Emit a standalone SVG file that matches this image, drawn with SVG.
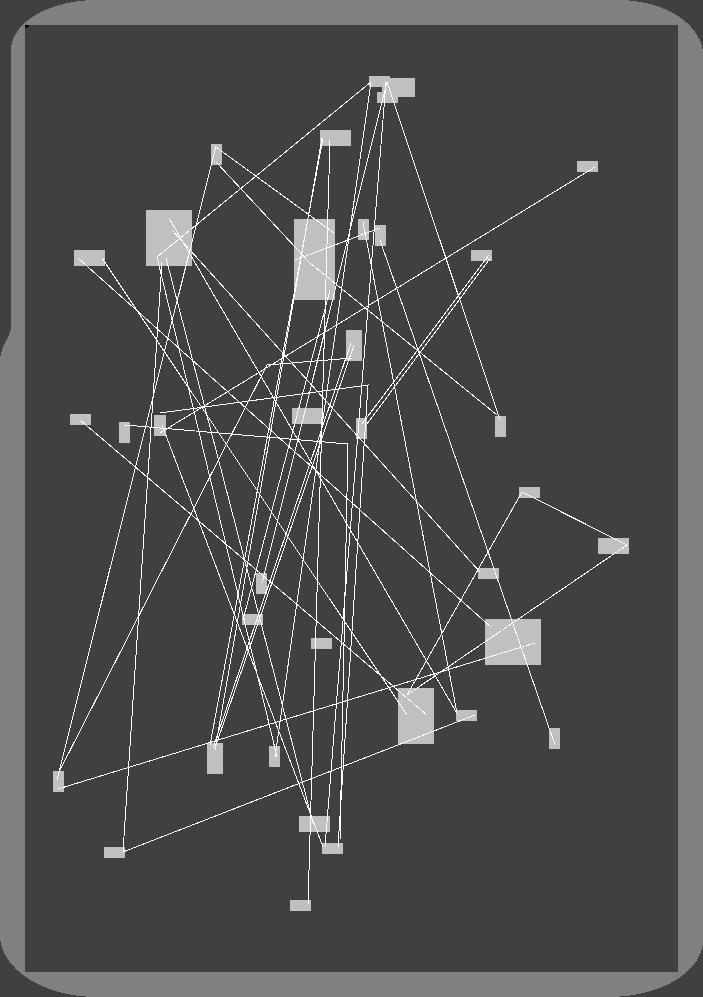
<svg xmlns="http://www.w3.org/2000/svg" width="703" height="997" viewBox="0 0 703 997" shape-rendering="crispEdges">
<style>
.n{fill:#c0c0c0}
#edges polyline{fill:none;stroke:#ffffff;stroke-width:1}
</style>
<rect x="0" y="0" width="703" height="997" fill="#404040"/>
<path d="M97,0 L618,0 A85,55 0 0 1 703,55 L703,940 A94,57 0 0 1 609,997 L97,997 A97,62 0 0 1 0,935 L0,362 C0,345 11,338 11,325 L11,50 A86,50 0 0 1 97,0 Z" fill="#808080"/>
<rect x="25" y="25" width="653" height="947" fill="#404040"/>
<path d="M25,25 H29 V27 H27 V28 H25 Z" fill="#000000"/>
<g id="nodes">
<rect id="n1" class="n" x="369" y="76" width="21" height="11"/>
<rect id="n2" class="n" x="382" y="78" width="33" height="19"/>
<rect id="n3" class="n" x="377" y="92" width="21" height="11"/>
<rect id="n4" class="n" x="320" y="130" width="31" height="16"/>
<rect id="n5" class="n" x="577" y="161" width="21" height="11"/>
<rect id="n6" class="n" x="294" y="219" width="41" height="81"/>
<rect id="n7" class="n" x="358" y="219" width="11" height="21"/>
<rect id="n8" class="n" x="375" y="225" width="11" height="21"/>
<rect id="n9" class="n" x="471" y="250" width="21" height="11"/>
<rect id="n10" class="n" x="211" y="144" width="11" height="21"/>
<rect id="n11" class="n" x="146" y="210" width="46" height="56"/>
<rect id="n12" class="n" x="74" y="250" width="31" height="16"/>
<rect id="n13" class="n" x="346" y="330" width="16" height="31"/>
<rect id="n14" class="n" x="70" y="414" width="21" height="11"/>
<rect id="n15" class="n" x="119" y="422" width="11" height="21"/>
<rect id="n16" class="n" x="154" y="415" width="12" height="21"/>
<rect id="n17" class="n" x="292" y="408" width="31" height="16"/>
<rect id="n18" class="n" x="356" y="418" width="11" height="21"/>
<rect id="n19" class="n" x="495" y="416" width="11" height="21"/>
<rect id="n20" class="n" x="519" y="487" width="21" height="11"/>
<rect id="n21" class="n" x="598" y="538" width="31" height="16"/>
<rect id="n22" class="n" x="478" y="568" width="21" height="11"/>
<rect id="n23" class="n" x="256" y="573" width="11" height="21"/>
<rect id="n24" class="n" x="242" y="614" width="21" height="11"/>
<rect id="n25" class="n" x="311" y="638" width="21" height="11"/>
<rect id="n26" class="n" x="53" y="771" width="11" height="21"/>
<rect id="n27" class="n" x="207" y="743" width="16" height="31"/>
<rect id="n28" class="n" x="269" y="746" width="11" height="21"/>
<rect id="n29" class="n" x="299" y="816" width="31" height="16"/>
<rect id="n30" class="n" x="322" y="843" width="21" height="11"/>
<rect id="n31" class="n" x="104" y="847" width="21" height="11"/>
<rect id="n32" class="n" x="290" y="900" width="21" height="11"/>
<rect id="n33" class="n" x="485" y="619" width="56" height="46"/>
<rect id="n34" class="n" x="398" y="688" width="36" height="56"/>
<rect id="n35" class="n" x="456" y="710" width="21" height="11"/>
<rect id="n36" class="n" x="549" y="728" width="11" height="21"/>
</g>
<g id="edges">
<polyline points="371,82 157,257"/>
<polyline points="387,82 500,420"/>
<polyline points="216,147 334,233"/>
<polyline points="216,162 310,263 497,415"/>
<polyline points="216,146 57,780"/>
<polyline points="59,772 267,365 352,358"/>
<polyline points="58,789 535,643"/>
<polyline points="123,852 162,262"/>
<polyline points="78,258 492,628"/>
<polyline points="102,258 407,715"/>
<polyline points="169,218 458,715"/>
<polyline points="157,257 277,757"/>
<polyline points="166,258 313,823"/>
<polyline points="123,852 475,715"/>
<polyline points="627,545 407,695"/>
<polyline points="627,545 522,492 407,695"/>
<polyline points="595,167 160,433"/>
<polyline points="489,255 362,424"/>
<polyline points="491,257 367,424"/>
<polyline points="555,745 380,240"/>
<polyline points="80,420 427,715"/>
<polyline points="363,222 457,713"/>
<polyline points="322,138 215,750"/>
<polyline points="323,138 210,745"/>
<polyline points="387,82 262,583"/>
<polyline points="371,82 275,757"/>
<polyline points="125,425 348,444 340,840"/>
<polyline points="160,413 368,385 338,847"/>
<polyline points="172,230 480,572"/>
<polyline points="354,345 216,745"/>
<polyline points="351,343 213,748"/>
<polyline points="308,905 330,140"/>
<polyline points="386,82 325,847"/>
<polyline points="162,425 323,847"/>
<polyline points="330,290 243,620"/>
<polyline points="295,260 380,228"/>
</g>
</svg>
